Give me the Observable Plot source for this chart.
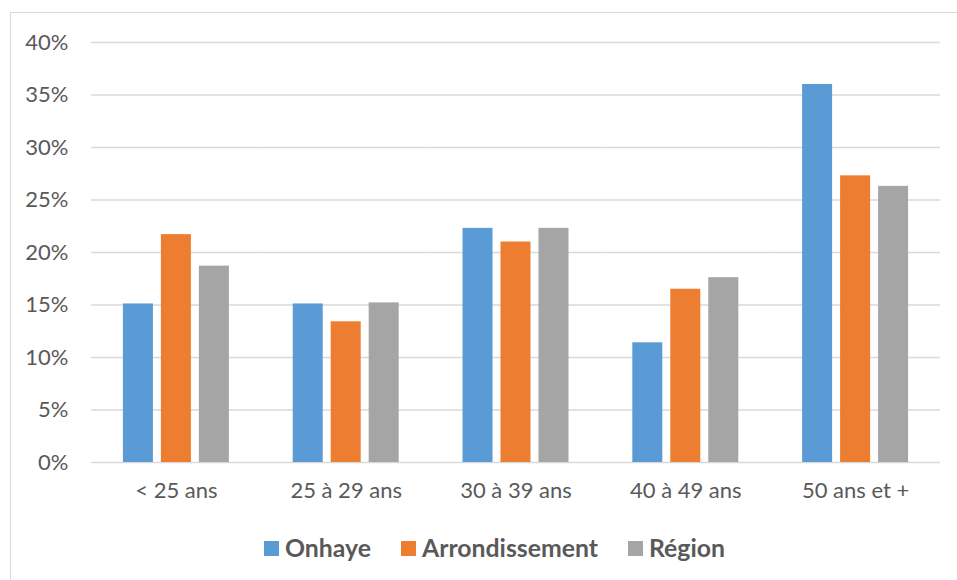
<!DOCTYPE html>
<html>
<head>
<meta charset="utf-8">
<script src="https://cdn.jsdelivr.net/npm/d3@7"></script>
<script src="https://cdn.jsdelivr.net/npm/@observablehq/plot@0.6"></script>
<style>
  html, body { margin: 0; padding: 0; background: #fff; }
  body { width: 957px; height: 580px; position: relative; overflow: hidden; font-family: Lato, "Open Sans", sans-serif; }
  #frame { position: absolute; left: 10px; top: 12px; width: 960px; height: 580px;
           border-top: 1.5px solid #d9d9d9; border-left: 1.5px solid #d9d9d9; box-sizing: border-box; pointer-events: none; }
  #chart { position: absolute; left: 0; top: 0; }
  #legend { position: absolute; left: 264px; top: 534px; display: flex; align-items: center;
            font: bold 24.8px Lato, "Open Sans", sans-serif; color: #595959; line-height: 28px; }
  .item { display: flex; align-items: center; margin-right: 30px; }
  .sw { width: 15px; height: 15px; margin-right: 6px; }
</style>
</head>
<body>
<div id="frame"></div>
<div id="chart"></div>
<div id="legend"></div>
<script>
const categories = ["< 25 ans", "25 à 29 ans", "30 à 39 ans", "40 à 49 ans", "50 ans et +"];
const seriesNames = ["Onhaye", "Arrondissement", "Région"];
const seriesColors = ["#5b9bd5", "#ed7d31", "#a5a5a5"];
const onhaye = [0.151, 0.151, 0.223, 0.114, 0.360];
const arrondissement = [0.217, 0.134, 0.210, 0.165, 0.273];
const region = [0.187, 0.152, 0.223, 0.176, 0.263];
const yTicks = [0, 0.05, 0.10, 0.15, 0.20, 0.25, 0.30, 0.35, 0.40];

const seriesValues = [onhaye, arrondissement, region];
const data = [];
categories.forEach((c, i) => {
  seriesNames.forEach((s, j) => data.push({category: c, series: s, value: seriesValues[j][i]}));
});

const plot = Plot.plot({
  width: 957,
  height: 510,
  marginTop: 42,
  marginBottom: 48,
  marginLeft: 91,
  marginRight: 17,
  style: {fontFamily: "Lato, 'Open Sans', sans-serif", fontSize: "22px", color: "#595959", background: "transparent"},
  fx: {domain: categories, padding: 0, round: false, label: null},
  x: {domain: seriesNames, paddingInner: 0.21, paddingOuter: 0.84, round: false, axis: null},
  y: {domain: [0, 0.40], label: null},
  color: {domain: seriesNames, range: seriesColors},
  marks: [
    Plot.gridY(yTicks, {stroke: "#d9d9d9", strokeOpacity: 1, strokeWidth: 1.5}),
    Plot.axisY(yTicks, {tickSize: 0, tickPadding: 23, tickFormat: d3.format(".0%"), fontSize: 22, fill: "#595959", label: null}),
    Plot.axisFx({anchor: "bottom", tickSize: 0, tickPadding: 20, fontSize: 22, fill: "#595959", label: null}),
    Plot.barY(data, {fx: "category", x: "series", y: "value", fill: "series"})
  ]
});
document.getElementById("chart").appendChild(plot);

const legend = document.getElementById("legend");
seriesNames.forEach((s, i) => {
  const item = document.createElement("div");
  item.className = "item";
  const sw = document.createElement("div");
  sw.className = "sw";
  sw.style.background = seriesColors[i];
  const label = document.createElement("span");
  label.textContent = s;
  item.appendChild(sw);
  item.appendChild(label);
  legend.appendChild(item);
});
</script>
</body>
</html>
